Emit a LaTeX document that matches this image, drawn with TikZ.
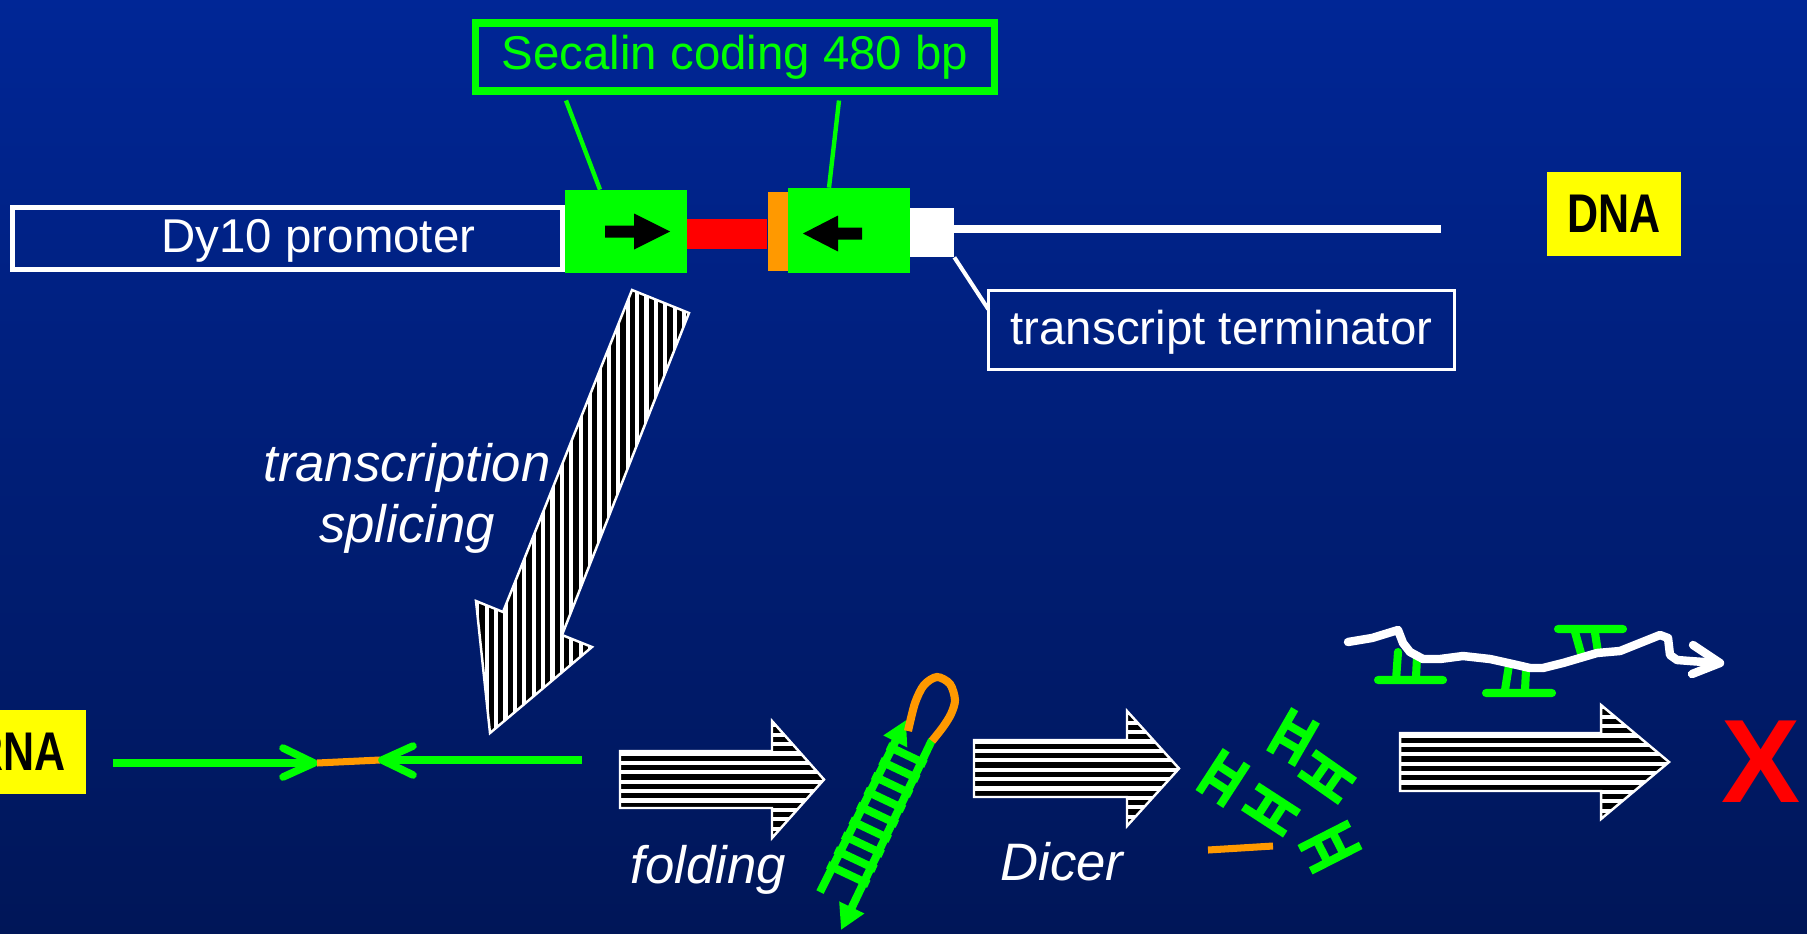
\documentclass[tikz,border=0pt]{standalone}
\usepackage{graphicx}
\usepackage{fontspec}
\setmainfont{Liberation Sans}
\usetikzlibrary{calc,arrows.meta}

\definecolor{slidetop}{RGB}{0,38,150}
\definecolor{slidebot}{RGB}{0,22,88}
\definecolor{rnagreen}{RGB}{0,255,0}
\definecolor{loopor}{RGB}{255,153,0}
\definecolor{tagyellow}{RGB}{255,255,0}

\tikzset{
  boxtext/.style={text=white, font=\fontsize{27}{32}\selectfont, text depth=0.1cm},
  tag/.style={fill=tagyellow, minimum width=2.68cm, minimum height=1.68cm, inner sep=0pt,
    font=\fontsize{31}{36}\selectfont\bfseries},
  steplabel/.style={text=white, font=\fontsize{30}{35}\selectfont\itshape, anchor=base},
  strand/.style={rnagreen, line width=4.6pt},
  barb/.style={rnagreen, line width=4.3pt, line cap=round, line join=round},
  rung/.style={rnagreen, line width=4.6pt},
  duplex/.pic={
    \draw[rung] (-25,-12.5) -- (25,-12.5) (-25,12.5) -- (25,12.5)
      (-8,-12.5) -- (-8,12.5) (8,-12.5) -- (8,12.5);
  }
}

% block arrow with black stripes: #1 outline, #2 stripes
\newcommand{\stripedarrow}[2]{%
  \fill[white] #1;
  \begin{scope}
    \clip #1;
    #2
  \end{scope}
  \draw[white, line width=1.4pt] #1;
}

\begin{document}
\begin{tikzpicture}[x=0.02cm, y=-0.02cm]
\useasboundingbox (0,0) rectangle (1807,933);
\shade[top color=slidetop, bottom color=slidebot] (0,0) rectangle (1807,933);

% gene construct
\node[draw=white, line width=2.8pt, minimum width=11cm, minimum height=1.24cm, boxtext]
  (promoter) at (287.5,238.5) {\hspace*{1.24cm}Dy10 promoter};
\node[fill=rnagreen, minimum width=2.44cm, minimum height=1.66cm] (sense) at (626,231.5) {};
\node[fill=red, minimum width=1.6cm, minimum height=0.6cm] (hinge) at (727,234) {};
\node[fill=loopor, minimum width=0.4cm, minimum height=1.58cm] (intron) at (778,231.5) {};
\node[fill=rnagreen, minimum width=2.44cm, minimum height=1.7cm] (antisense) at (849,230.5) {};
\node[fill=white, minimum width=0.88cm, minimum height=0.98cm] (term) at (932,232.5) {};
\coordinate (dnaend) at (1441,229);
\draw[white, line width=4.5pt] (term.east |- dnaend) -- (dnaend);

\fill[black, shift={(sense.center)}] (-21,-6) -- (8,-6) -- (8,-18) -- (44,0) -- (8,18) -- (8,6) -- (-21,6) -- cycle;
\fill[black, shift={(antisense.center)}] (-46,3) -- (-11,-15) -- (-11,-3) -- (13,-3) -- (13,9) -- (-11,9) -- (-11,21) -- cycle;

\node[draw=rnagreen, line width=4pt, minimum width=10.38cm, minimum height=1.36cm,
  boxtext, text=rnagreen, text depth=0.2cm] (secalin) at (735,57) {Secalin coding 480 bp};
\draw[rnagreen, line width=2.5pt] ($(secalin.south)+(-169,6)$) -- ($(sense.north)+(-26,0)$);
\draw[rnagreen, line width=2.5pt] ($(secalin.south)+(104,6)$) -- ($(antisense.north)+(-20,0)$);

\node[draw=white, line width=1.4pt, minimum width=9.32cm, minimum height=1.58cm, boxtext]
  (termlabel) at (1221.5,330) {transcript terminator};
\draw[white, line width=2.3pt] (term.south east) -- ($(termlabel.north west)+(1,20)$);

\node[tag] (dnatag) at (1614,214) {\scalebox{0.79}[1]{DNA}};
\node[tag] (rnatag) at (19,752) {\scalebox{0.79}[1]{RNA}};

% transcription
\stripedarrow{(632,290) -- (689,313) -- (562,635) -- (592,647) -- (490,733) -- (476,601) -- (503,612) -- cycle}
  {\foreach \x in {470,479.4,...,695} \fill[black] (\x,285) rectangle (\x+5.2,740);}
\node[steplabel] (transcription) at (407,481) {transcription};
\node[steplabel] (splicing) at (407,542) {splicing};

% primary transcript
\draw[strand] (113,763) -- (312,763);
\draw[barb] (283,748) -- (314,763) -- (283,777);
\draw[loopor, line width=4pt] (317,763) -- (380,760);
\draw[strand] (582,760) -- (384,760);
\draw[barb] (413,746) -- (382,760) -- (413,775);

% folding
\stripedarrow{(620,751) -- (772,751) -- (772,721) -- (824,779.5) -- (772,838) -- (772,808) -- (620,808) -- cycle}
  {\foreach \y in {718,727.4,...,840} \fill[black] (615,\y) rectangle (830,\y+5.2);}
\node[steplabel] (folding) at (708,883) {folding};

% hairpin
\coordinate (l0) at (820,892);
\coordinate (l1) at (906,720);
\coordinate (r0) at (841,930);
\coordinate (r1) at (932,740);
\foreach \k in {0,...,8} {
  \pgfmathsetmacro\t{0.145+0.0865*\k}
  \pgfmathsetmacro\u{0.253+0.0789*\k}
  \path ($(l0)!\t!(l1)$) coordinate (p) ($(r0)!\u!(r1)$) coordinate (q);
  \draw[rung] ($(p)!-0.15!(q)$) -- ($(q)!-0.15!(p)$);
}
\draw[strand, -{Triangle[length=0.48cm, width=0.5cm]}] (l0) -- (l1);
\draw[strand, -{Triangle[length=0.5cm, width=0.52cm]}] (r1) -- (r0);
\draw[loopor, line width=4.6pt] plot[smooth] coordinates
  {(908,731) (915,703) (924,685) (937,677) (950,684) (955,700) (951,714) (943,727) (932,741)};

% dicing
\stripedarrow{(974,740) -- (1127,740) -- (1127,711) -- (1179,768.5) -- (1127,826) -- (1127,797) -- (974,797) -- cycle}
  {\foreach \y in {706,715.4,...,830} \fill[black] (970,\y) rectangle (1185,\y+5.2);}
\node[steplabel] (dicer) at (1062,880) {Dicer};

\pic[rotate=60] at (1293,737) {duplex};
\pic[rotate=57] at (1223,778) {duplex};
\pic[rotate=-33] at (1271,810) {duplex};
\pic[rotate=-35] at (1327,777) {duplex};
\pic[rotate=27, xscale=1.12] at (1330,847) {duplex};
\draw[loopor, line width=4pt] (1208,850) -- (1273,846);

% target mRNA
\draw[rung, line cap=round] (1378,680) -- (1443,680) (1398,652) -- (1396,680) (1417,657) -- (1416,677);
\draw[rung, line cap=round] (1486,693) -- (1552,693) (1509,665) -- (1505,690) (1526,670) -- (1525,690);
\draw[rung, line cap=round] (1558,629) -- (1623,629) (1575,632) -- (1582,657) (1595,633) -- (1598,652);
\draw[white, line width=4.8pt, line cap=round, line join=round]
  (1348,642) -- (1372,638) -- (1398,630) -- (1403,643) -- (1410,652) -- (1423,659) -- (1440,659)
  -- (1463,656) -- (1490,659) -- (1517,665) -- (1530,668) -- (1543,668) -- (1563,663) -- (1580,658)
  -- (1597,653) -- (1620,651) -- (1640,643) -- (1660,635) -- (1668,638) -- (1670,655) -- (1677,660)
  -- (1690,661) -- (1718,663);
\draw[white, line width=4.8pt, line cap=round, line join=round] (1693,645) -- (1720,663) -- (1692,674);

\stripedarrow{(1400,733) -- (1601,733) -- (1601,705) -- (1669,762) -- (1601,819) -- (1601,791) -- (1400,791) -- cycle}
  {\foreach \y in {700,709.4,...,825} \fill[black] (1395,\y) rectangle (1675,\y+5.2);}
\node[text=red, font=\fontsize{67.5}{70}\selectfont\bfseries, anchor=base] (blocked) at (1761,802) {X};
\end{tikzpicture}
\end{document}
